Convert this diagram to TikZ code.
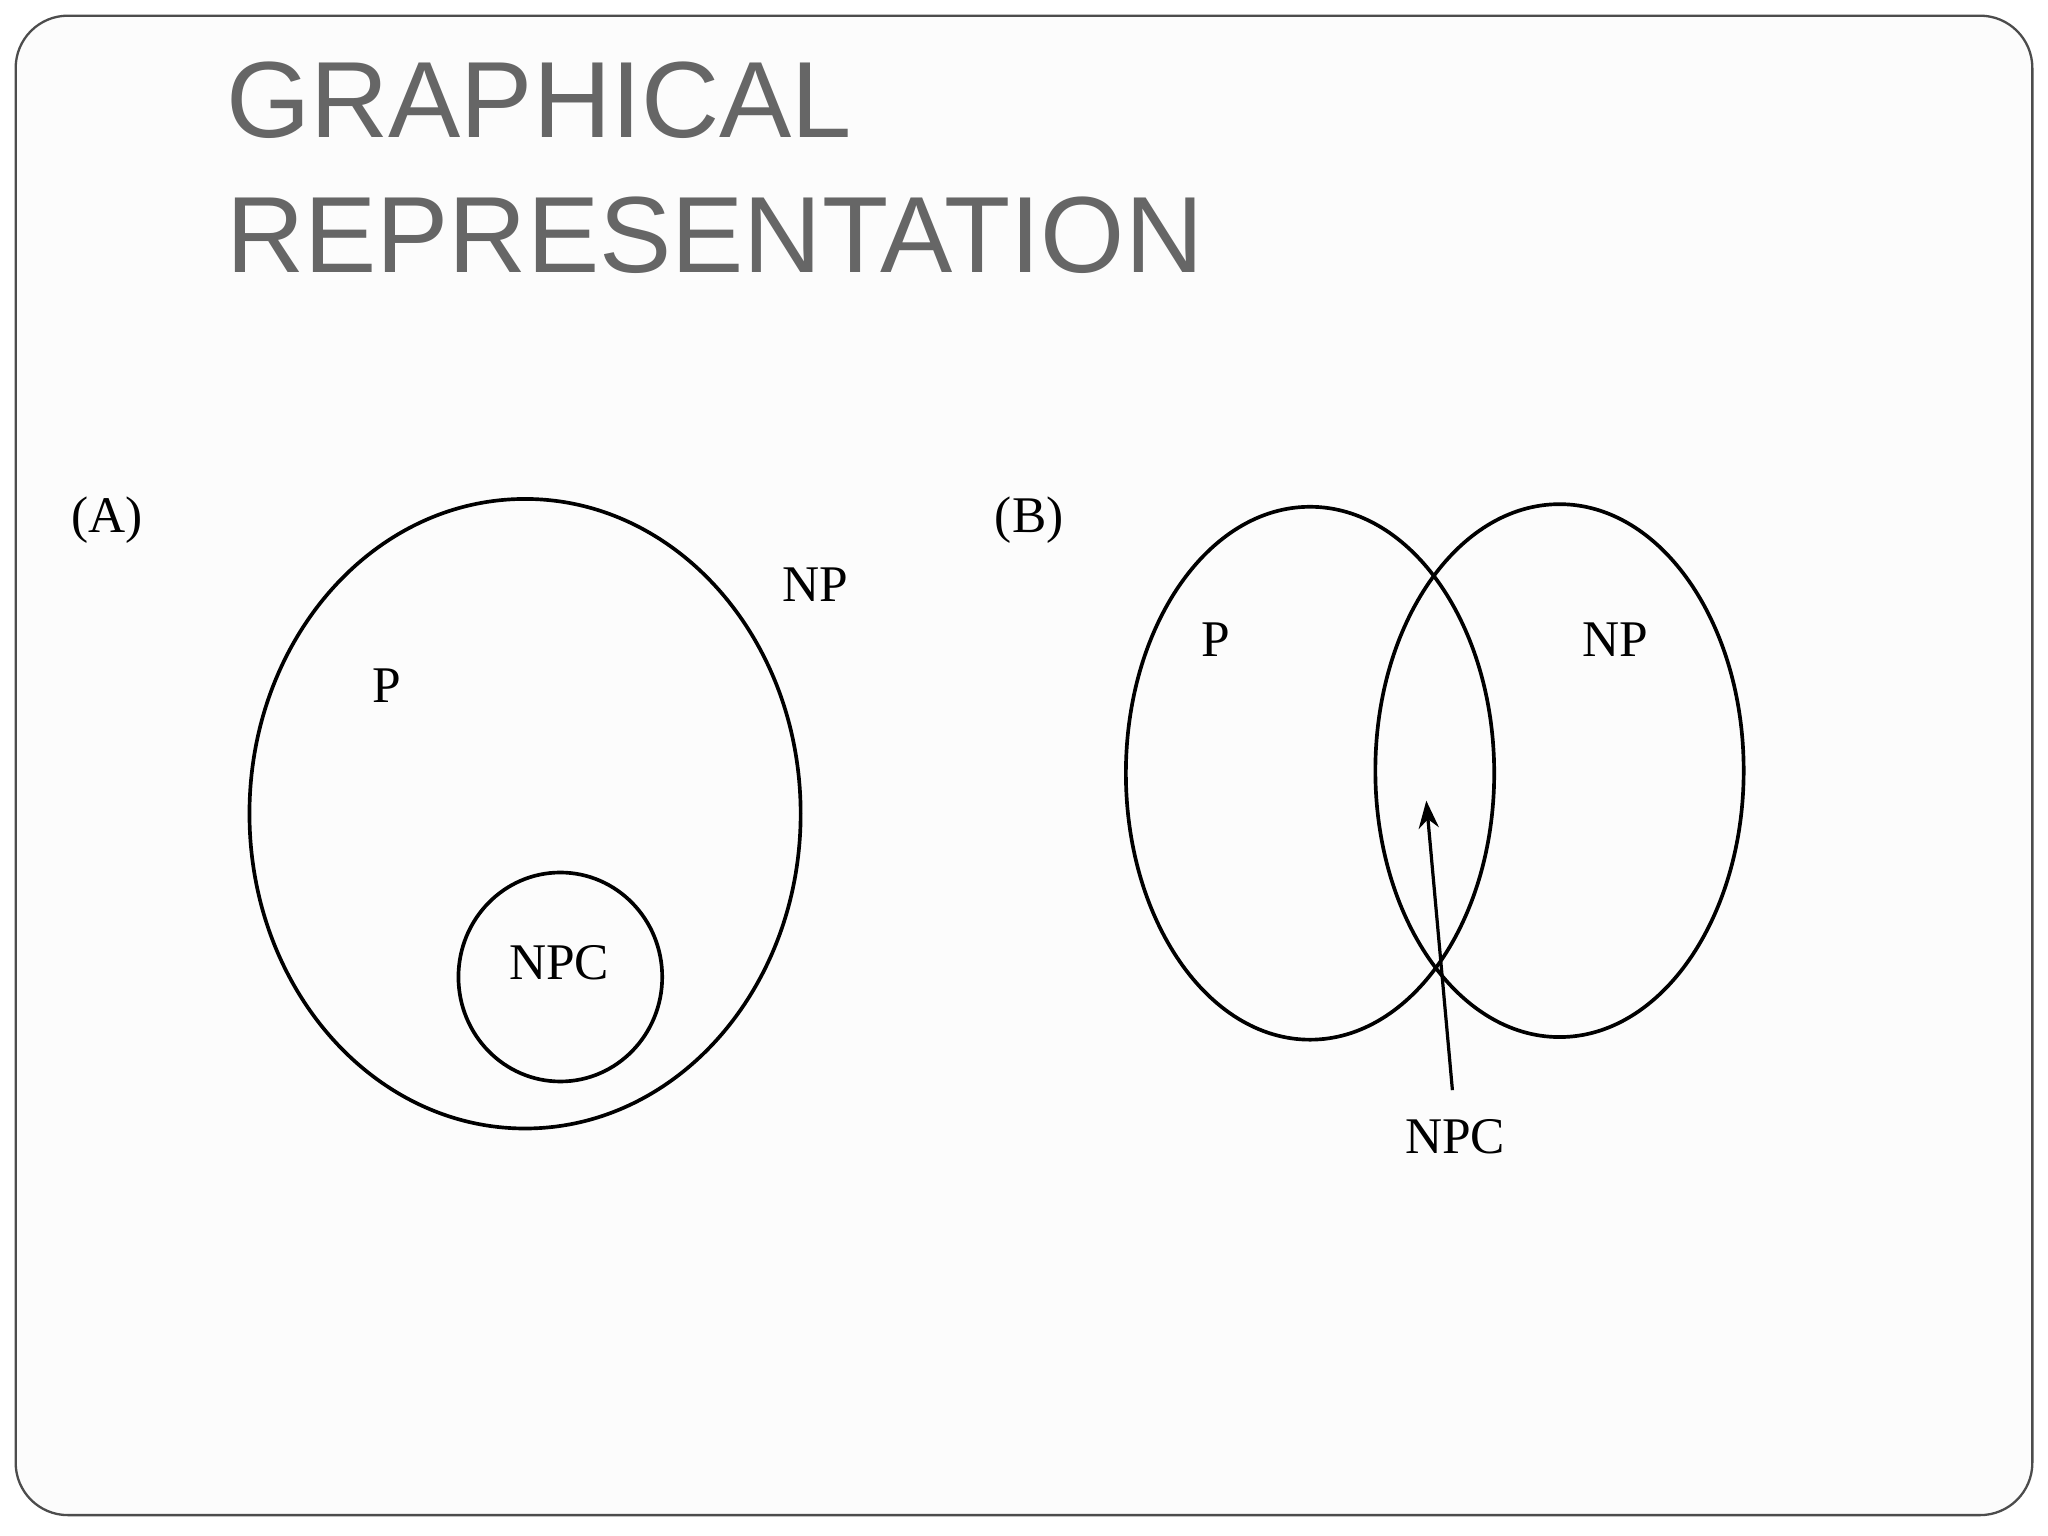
\documentclass[tikz,border=0pt]{standalone}
\usepackage{fontspec}
\setmainfont{Liberation Serif}
\newfontfamily\titlefont{Liberation Sans}
\usetikzlibrary{arrows.meta}
\begin{document}
\begin{tikzpicture}[x=0.05cm,y=-0.05cm,
  lab/.style={font=\fontsize{56}{60}\selectfont, inner sep=0pt},
  venn/.style={line width=4pt, draw=black}]
\useasboundingbox (0,0) rectangle (1568,1176);
\fill[white] (0,0) rectangle (1568,1176);
\draw[line width=2.5pt, draw=black!70, fill=black!1, rounded corners=40*0.05cm] (12,12) rectangle (1556,1160);
\node[anchor=base west, font=\titlefont\fontsize{118}{130}\selectfont, text=black!60, inner sep=0pt] (t1) at (173,105) {GRAPHICAL};
\node[anchor=base west, font=\titlefont\fontsize{118}{130}\selectfont, text=black!60, inner sep=0pt] (t2) at (173,209) {REPRESENTATION};
% A
\draw[venn] (402,623) ellipse [x radius=211, y radius=241];
\draw[venn] (429,748) ellipse [x radius=78, y radius=80];
\node[lab] (la) at (82,398) {(A)};
\node[lab] (pa) at (296,525) {P};
\node[lab] (npa) at (624,448) {NP};
\node[lab] (npca) at (428,737) {NPC};
% B
\draw[venn] (1003,592) ellipse [x radius=141, y radius=204];
\draw[venn] (1194,590) ellipse [x radius=141, y radius=204];
\node[lab] (lb) at (788,398) {(B)};
\node[lab] (pb) at (931,490) {P};
\node[lab] (npb) at (1237,490) {NP};
\node[lab] (npcb) at (1114,870) {NPC};
\coordinate (tip) at (1092,613);
\draw[line width=3.5pt, -{Stealth[length=30pt,width=22pt]}] (npcb.north) ++(-2,-22) -- (tip);
\end{tikzpicture}
\end{document}
